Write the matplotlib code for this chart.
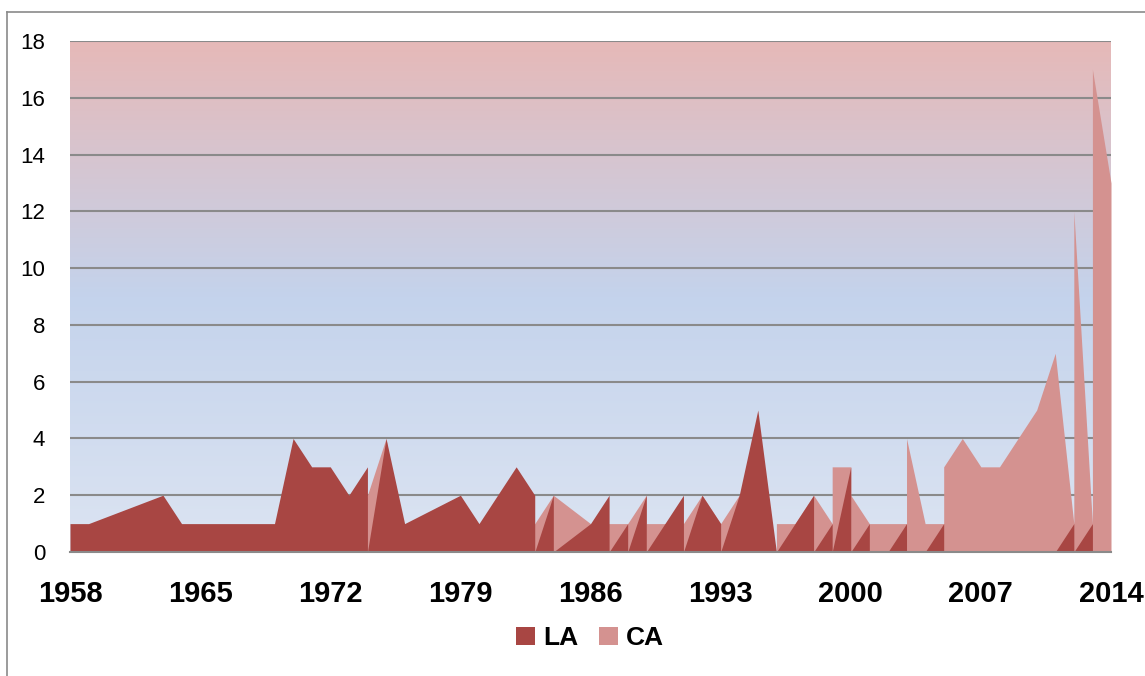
import matplotlib
matplotlib.use("Agg")
import matplotlib.pyplot as plt
import numpy as np
from matplotlib.colors import LinearSegmentedColormap
from matplotlib.lines import Line2D
from matplotlib.patches import Patch

plt.rcParams["font.family"] = ["Liberation Sans", "DejaVu Sans"]

# Yearly counts; a repeated year marks a step within that year
years = [1958, 1959, 1963, 1964, 1965, 1966, 1967, 1968, 1969, 1970, 1971, 1972,
         1973, 1974, 1974, 1975, 1976, 1979, 1980, 1982, 1983, 1983, 1984, 1984,
         1986, 1987, 1987, 1988, 1988, 1989, 1989, 1990, 1991, 1991, 1992, 1993,
         1993, 1994, 1995, 1996, 1996, 1997, 1998, 1998, 1999, 1999, 2000, 2000,
         2001, 2001, 2002, 2003, 2003, 2004, 2005, 2005, 2006, 2007, 2008, 2009,
         2010, 2011, 2012, 2012, 2013, 2013, 2014]
la = [1, 1, 2, 1, 1, 1, 1, 1, 1, 4, 3, 3,
      2, 3, 0, 4, 1, 2, 1, 3, 2, 0, 2, 0,
      1, 2, 0, 1, 0, 2, 0, 1, 2, 0, 2, 1,
      0, 2, 5, 0, 0, 1, 2, 0, 1, 0, 3, 0,
      1, 0, 0, 1, 0, 0, 1, 0, 0, 0, 0, 0,
      0, 0, 1, 0, 1, 0, 0]
ca = [0, 0, 0, 0, 0, 0, 0, 0, 0, 0, 0, 0,
      0, 2, 2, 4, 0, 0, 0, 0, 1, 1, 2, 2,
      1, 1, 1, 1, 1, 2, 1, 1, 1, 1, 2, 1,
      1, 2, 0, 0, 1, 1, 2, 2, 1, 3, 3, 2,
      1, 1, 1, 1, 4, 1, 1, 3, 4, 3, 3, 4,
      5, 7, 1, 12, 1, 17, 13]
x_ticks = list(range(1958, 2015, 7))
y_ticks = list(range(0, 19, 2))
series_names = ["LA", "CA"]

LA_COLOR = "#A84643"
CA_COLOR = "#D49290"
GRID = "#8a8a8a"

W, H = 1145, 676
fig = plt.figure(figsize=(W / 100, H / 100), dpi=100)
ax = fig.add_axes([70 / W, 124 / H, 1041 / W, 511 / H])
ax.set_xlim(1958, 2014)
ax.set_ylim(0, 18)

# plot-area gradient: rose at the top, blue in the middle, pale blue at the base
bg = LinearSegmentedColormap.from_list(
    "bg", [(0.0, "#E6B9B8"), (0.5, "#C4D3EC"), (1.0, "#DCE4F2")])
ax.imshow(np.linspace(0, 1, 256).reshape(-1, 1), aspect="auto", cmap=bg,
          extent=(1958, 2014, 0, 18), origin="upper", zorder=0,
          interpolation="bilinear")

for v in y_ticks[1:]:
    ax.axhline(v, color=GRID, lw=1.5, zorder=1)

ax.fill_between(years, ca, 0, color=CA_COLOR, lw=0, zorder=2)
ax.fill_between(years, la, 0, color=LA_COLOR, lw=0, zorder=3)

for s in ["top", "right", "left"]:
    ax.spines[s].set_visible(False)
ax.spines["bottom"].set_color(GRID)
ax.spines["bottom"].set_linewidth(1.5)
ax.spines["bottom"].set_zorder(4)

ax.set_xticks(x_ticks)
ax.set_xticklabels([str(t) for t in x_ticks], fontsize=21, fontweight="bold")
ax.set_yticks(y_ticks)
ax.set_yticklabels([str(t) for t in y_ticks], fontsize=16)
ax.tick_params(axis="x", length=0, pad=20)
ax.tick_params(axis="y", length=0, pad=18)

handles = [Patch(facecolor=LA_COLOR, edgecolor="none"),
           Patch(facecolor=CA_COLOR, edgecolor="none")]
fig.legend(handles, series_names, loc="center", bbox_to_anchor=(590 / W, 1 - 638 / H),
           ncol=2, frameon=False, prop={"size": 19, "weight": "bold"},
           handlelength=0.7, handleheight=0.7, handletextpad=0.3,
           columnspacing=0.8, borderpad=0)

# chart frame
fig.add_artist(Line2D([7 / W, 7 / W], [0, 1 - 12 / H], transform=fig.transFigure,
                      color=GRID, lw=1.2))
fig.add_artist(Line2D([7 / W, 1], [1 - 12 / H, 1 - 12 / H], transform=fig.transFigure,
                      color=GRID, lw=1.2))

fig.savefig("out.png", dpi=100)
